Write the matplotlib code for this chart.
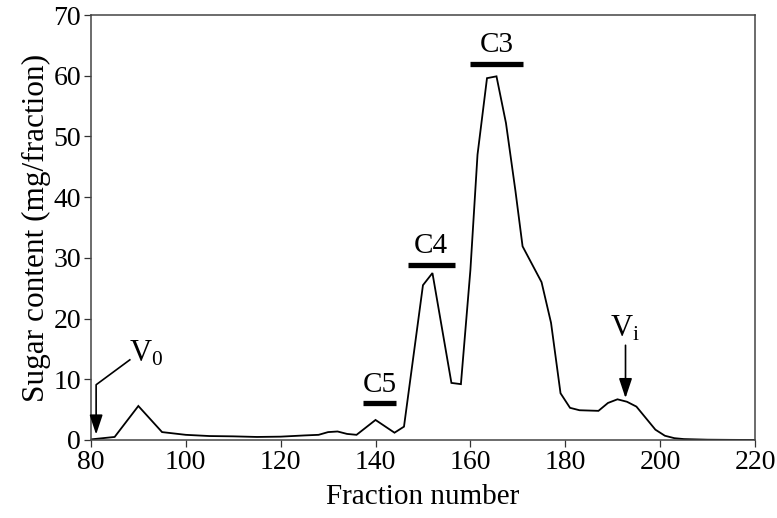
import matplotlib
matplotlib.use("Agg")
import matplotlib.pyplot as plt

plt.rcParams['font.family'] = ['Liberation Serif', 'DejaVu Serif']
plt.rcParams['mathtext.fontset'] = 'custom'
plt.rcParams['mathtext.rm'] = 'Liberation Serif'
plt.rcParams['mathtext.it'] = 'Liberation Serif:italic'

fraction = [80, 85, 90, 95, 100, 105, 110, 115, 120, 125, 128, 130, 132, 134,
            136, 140, 144, 146, 150, 152, 156, 158, 160, 161.5, 163.5, 165.5,
            167.5, 169.5, 171, 175, 177, 179, 181, 183, 187, 189, 191, 193,
            195, 197, 199, 201, 203, 205, 210, 215, 220]
sugar = [0.1, 0.5, 5.6, 1.3, 0.85, 0.65, 0.6, 0.5, 0.55, 0.75, 0.85, 1.3, 1.4, 1.0,
         0.85, 3.3, 1.2, 2.2, 25.5, 27.5, 9.4, 9.2, 28.0, 47.0, 59.6, 59.9,
         52.2, 41.0, 31.9, 26.0, 19.3, 7.7, 5.3, 4.9, 4.8, 6.1, 6.7, 6.3,
         5.5, 3.6, 1.7, 0.7, 0.3, 0.15, 0.05, 0.02, 0.0]

xticks = [80, 100, 120, 140, 160, 180, 200, 220]
yticks = [0, 10, 20, 30, 40, 50, 60, 70]

bar_labels = ['C5', 'C4', 'C3']
bar_start = [137.3, 146.8, 159.9]
bar_end = [144.3, 156.7, 171.1]
bar_level = [6.05, 28.9, 62.0]

fig = plt.figure(figsize=(7.77, 5.18), dpi=100)
ax = fig.add_axes([0.117, 0.1506, 0.8547, 0.8204])

ax.plot(fraction, sugar, color='black', lw=1.3, solid_joinstyle='miter')
ax.set_xlim(80, 220)
ax.set_ylim(0, 70)
ax.set_xticks(xticks)
ax.set_yticks(yticks)
ax.tick_params(direction='out', length=5, width=0.9, labelsize=20, color='#333333', pad=2)
for s in ax.spines.values():
    s.set_linewidth(1.1)
    s.set_color('#444444')

ax.set_xlabel('Fraction number', fontsize=21, labelpad=7)
ax.set_ylabel('Sugar content (mg/fraction)', fontsize=22.5, labelpad=2)

for lab, x0, x1, yl in zip(bar_labels, bar_start, bar_end, bar_level):
    ax.plot([x0, x1], [yl, yl], color='black', lw=3.8, solid_capstyle='butt', clip_on=False)
    ax.text((x0 + x1) / 2, yl + 0.9, lab, ha='center', va='bottom', fontsize=21)

# V0 annotation
ax.plot([88.2, 81.1, 81.1], [13.2, 9.1, 3.0], color='black', lw=1.2)
ax.annotate('', xy=(81.1, 0.9), xytext=(81.1, 4.0),
            arrowprops=dict(arrowstyle='-|>,head_length=1.2,head_width=0.4',
                            color='black', lw=1.2, shrinkA=0, shrinkB=0))
ax.text(88.0, 11.8, r'V$_{\mathrm{0}}$', fontsize=22, ha='left', va='bottom')

# Vi annotation
ax.annotate('', xy=(192.7, 6.9), xytext=(192.7, 15.6),
            arrowprops=dict(arrowstyle='-|>,head_length=1.2,head_width=0.4',
                            color='black', lw=1.2, shrinkA=0, shrinkB=0))
ax.text(192.6, 15.9, r'V$_{\mathrm{i}}$', fontsize=22, ha='center', va='bottom')

fig.savefig('out.png', dpi=100)
